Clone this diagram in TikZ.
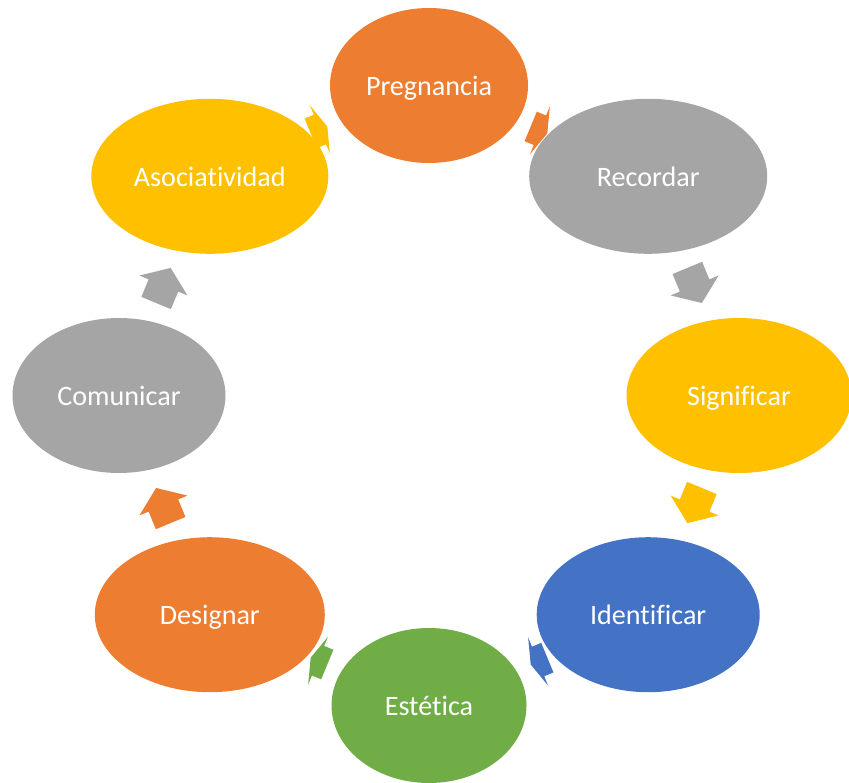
\documentclass[tikz,border=0pt]{standalone}
\usepackage{fontspec}
\setmainfont{Carlito}[Ligatures=NoCommon]
\usetikzlibrary{calc,shapes.geometric}
\definecolor{accorange}{HTML}{ED7D31}
\definecolor{accgray}{HTML}{A5A5A5}
\definecolor{accyellow}{HTML}{FFC000}
\definecolor{accblue}{HTML}{4472C4}
\definecolor{accgreen}{HTML}{70AD47}
\tikzset{
    stage/.style={ellipse, fill=#1, text=white, minimum height=3.1cm, inner sep=0pt, text depth=0pt, font=\fontsize{16}{19}\selectfont},
}
% block arrow on the ring: colour, angle on the ring, length, head length
\newcommand{\cyclearrow}[4]{%
  \fill[#1, shift={($(c)+(#2:5.75)$)}, rotate=#2-90]
    (-#3/2,-0.32) -- (#3/2-#4,-0.32) -- (#3/2-#4,-0.52) -- (#3/2,0)
    -- (#3/2-#4,0.52) -- (#3/2-#4,0.32) -- (-#3/2,0.32) -- cycle;
}

\begin{document}
\begin{tikzpicture}
    \useasboundingbox (0,0) rectangle (16.98,15.64);
    \coordinate (c) at (8.58,7.73);

    \node[stage=accorange, minimum width=3.96cm] (pregnancia) at ($(c)+(90:6.2)$) {Pregnancia};
    \node[stage=accgray, minimum width=4.76cm] (recordar) at ($(c)+(45:6.2)$) {Recordar};
    \node[stage=accyellow, minimum width=4.5cm] (significar) at ($(c)+(0:6.2)$) {Significar};
    \node[stage=accblue, minimum width=4.46cm] (identificar) at ($(c)+(-45:6.2)$) {Identificar};
    \node[stage=accgreen, minimum width=3.9cm] (estetica) at ($(c)+(-90:6.2)$) {Estética};
    \node[stage=accorange, minimum width=4.6cm] (designar) at ($(c)+(-135:6.2)$) {Designar};
    \node[stage=accgray, minimum width=4.26cm] (comunicar) at ($(c)+(180:6.2)$) {Comunicar};
    \node[stage=accyellow, minimum width=4.74cm] (asociatividad) at ($(c)+(135:6.2)$) {Asociatividad};

    \cyclearrow{accorange}{67.5}{0.36}{0.16}
    \cyclearrow{accgray}{22.5}{0.76}{0.38}
    \cyclearrow{accyellow}{-22.5}{0.76}{0.38}
    \cyclearrow{accblue}{-67.5}{0.36}{0.16}
    \cyclearrow{accgreen}{-112.5}{0.36}{0.16}
    \cyclearrow{accorange}{-157.5}{0.76}{0.38}
    \cyclearrow{accgray}{157.5}{0.76}{0.38}
    \cyclearrow{accyellow}{112.5}{0.36}{0.16}
\end{tikzpicture}
\end{document}
